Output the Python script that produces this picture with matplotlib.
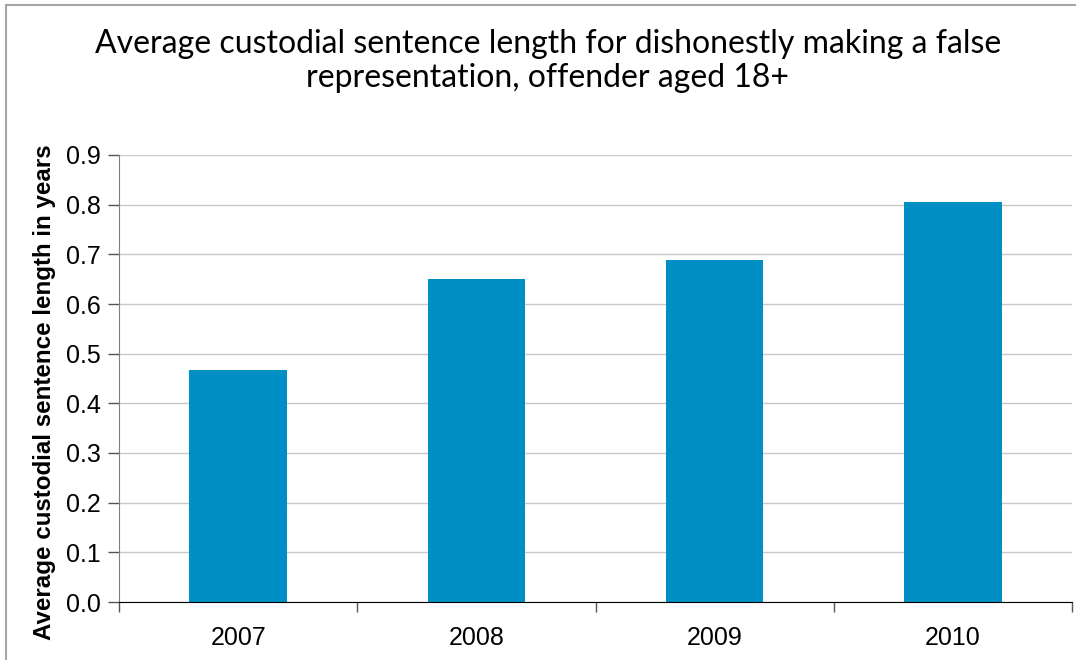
import matplotlib.pyplot as plt
import matplotlib.patches as patches
from matplotlib.ticker import FixedLocator

# Average custodial sentence (years) per year
years = ['2007', '2008', '2009', '2010']
avg_years = [0.467, 0.651, 0.689, 0.805]
y_ticks = [0.0, 0.1, 0.2, 0.3, 0.4, 0.5, 0.6, 0.7, 0.8, 0.9]

bar_color = '#008FC5'

fig = plt.figure(figsize=(10.76, 6.6), dpi=100)
ax = fig.add_axes([119 / 1076, 1 - 602 / 660, (1072 - 119) / 1076, (602 - 155) / 660])

pos = list(range(len(years)))
ax.bar(pos, avg_years, width=0.41, color=bar_color, zorder=3)

ax.set_xlim(-0.5, len(years) - 0.5)
ax.set_ylim(0, 0.9)

# Ticks between categories, labels centred under the bars
ax.xaxis.set_major_locator(FixedLocator([p - 0.5 for p in pos] + [len(years) - 0.5]))
ax.xaxis.set_minor_locator(FixedLocator(pos))
ax.set_xticklabels([])
ax.set_xticklabels(years, minor=True, fontsize=18, family='Liberation Sans')
ax.tick_params(axis='x', which='major', length=7, width=1, color='#555555', direction='out')
ax.tick_params(axis='x', which='minor', length=0, pad=17)

ax.set_yticks(y_ticks)
ax.set_yticklabels([f'{t:.1f}' for t in y_ticks], fontsize=18, family='Liberation Sans')
ax.tick_params(axis='y', length=8, width=1, color='#555555', pad=5)

ax.grid(axis='y', color='#C8C8C8', linewidth=1, zorder=0)
for s in ['top', 'right']:
    ax.spines[s].set_visible(False)
ax.spines['left'].set_color('#808080')
ax.spines['bottom'].set_color('black')
ax.spines['bottom'].set_zorder(4)

fig.text(45 / 1076, 1 - 392 / 660, 'Average custodial sentence length in years',
         rotation=90, ha='center', va='center', fontsize=17.4, fontweight='bold',
         family='Liberation Sans')

fig.text(548 / 1076, 1 - 61 / 660,
         'Average custodial sentence length for dishonestly making a false\nrepresentation, offender aged 18+',
         ha='center', va='center', fontsize=23, family='Lato', linespacing=1.15)

# Light frame around the chart area
fig.patches.append(patches.Rectangle((6 / 1076, -0.1), 1.2, 1 - 5 / 660 + 0.1,
                                     transform=fig.transFigure, fill=False,
                                     edgecolor='#A6A6A6', linewidth=1.5))

fig.savefig('out.png', dpi=100)
